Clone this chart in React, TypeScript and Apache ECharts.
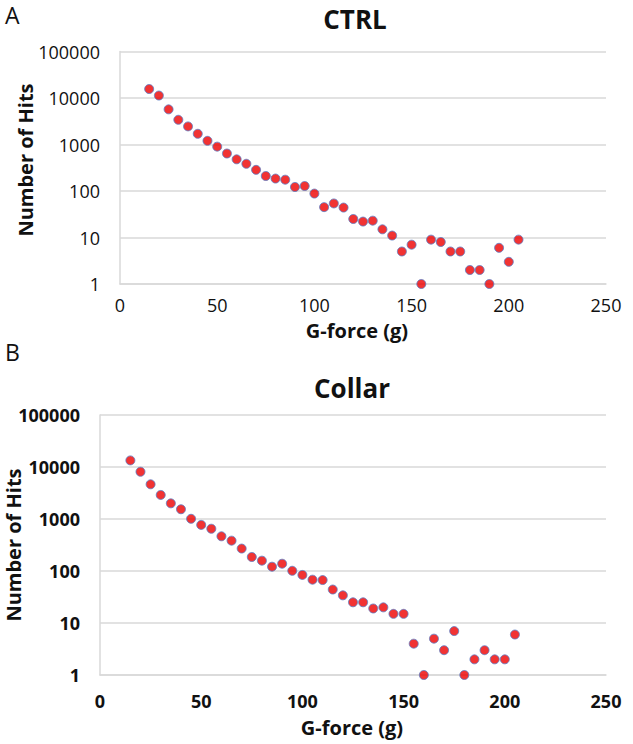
import React, { useEffect, useRef } from "react";
import * as echarts from "echarts";

// G-force bins (g)
const gForce = [15, 20, 25, 30, 35, 40, 45, 50, 55, 60, 65, 70, 75, 80, 85, 90, 95, 100, 105, 110, 115, 120, 125, 130, 135, 140, 145, 150, 155, 160, 165, 170, 175, 180, 185, 190, 195, 200, 205];

// Panel A: CTRL
const ctrlHits = [15600, 11300, 5700, 3400, 2450, 1700, 1200, 900, 640, 480, 385, 285, 210, 185, 175, 122, 128, 88, 45, 54, 44, 25, 22, 23, 15, 11, 5, 7, 1, 9, 8, 5, 5, 2, 2, 1, 6, 3, 9];

// Panel B: Collar
const collarHits = [13400, 8100, 4650, 2900, 2000, 1540, 1010, 770, 650, 465, 383, 270, 186, 158, 121, 138, 101, 84, 68, 67, 44, 34, 25, 25, 19, 20, 15, 15, 4, 1, 5, 3, 7, 1, 2, 3, 2, 2, 6];

const xTickLabels = ["0", "50", "100", "150", "200", "250"];
const yTickLabels = ["1", "10", "100", "1000", "10000", "100000"];

const panelLetters = ["A", "B"];
const panelTitles = ["CTRL", "Collar"];
const xAxisTitle = "G-force (g)";
const yAxisTitle = "Number of Hits";

export default function App() {
  const ref = useRef<HTMLDivElement>(null);

  useEffect(() => {
    if (!ref.current) return;
    const chart = echarts.init(ref.current, null, { renderer: "svg" });
    const font = '"Open Sans", "Liberation Sans", sans-serif';
    const gridColor = "#d9d9d9";
    const textColor = "#111111";

    const mkX = (i: number, bold: boolean, margin: number) => ({
      type: "value",
      gridIndex: i,
      min: 0,
      max: 250,
      interval: 50,
      axisLine: { show: true, lineStyle: { color: gridColor, width: 1.5 } },
      axisTick: { show: false },
      splitLine: { show: false },
      axisLabel: {
        margin,
        fontSize: 18,
        fontFamily: font,
        fontWeight: bold ? "bold" : "normal",
        color: textColor,
        formatter: (v: number) => xTickLabels[Math.round(v / 50)] ?? String(v),
      },
    });

    const mkY = (i: number, bold: boolean) => ({
      type: "log",
      logBase: 10,
      gridIndex: i,
      min: 1,
      max: 100000,
      axisLine: { show: true, lineStyle: { color: gridColor, width: 1.5 } },
      axisTick: { show: false },
      splitLine: { show: true, lineStyle: { color: gridColor, width: 1.5 } },
      axisLabel: {
        margin: 20,
        fontSize: 18,
        fontFamily: font,
        fontWeight: bold ? "bold" : "normal",
        color: textColor,
        formatter: (v: number) => {
          const k = Math.round(Math.log10(v));
          return yTickLabels[k] ?? String(Math.round(v));
        },
      },
    });

    const markerStyle = {
      color: "#ee0000",
      borderColor: "#5a7dc5",
      borderWidth: 1,
    };

    const option: any = {
      animation: false,
      backgroundColor: "#ffffff",
      grid: [
        { left: 120, top: 51.5, width: 486, height: 232.5 },
        { left: 100, top: 415, width: 506, height: 260 },
      ],
      xAxis: [mkX(0, false, 12), mkX(1, true, 17)],
      yAxis: [mkY(0, false), mkY(1, true)],
      series: [
        {
          type: "scatter",
          xAxisIndex: 0,
          yAxisIndex: 0,
          symbol: "circle",
          symbolSize: 9,
          itemStyle: markerStyle,
          data: gForce.map((x, i) => [x, ctrlHits[i]]),
        },
        {
          type: "scatter",
          xAxisIndex: 1,
          yAxisIndex: 1,
          symbol: "circle",
          symbolSize: 9,
          itemStyle: markerStyle,
          data: gForce.map((x, i) => [x, collarHits[i]]),
        },
      ],
      graphic: [
        {
          type: "text",
          x: 5,
          y: 15,
          style: { text: panelLetters[0], font: `normal 23px ${font}`, fill: textColor, textAlign: "left", textVerticalAlign: "middle" },
        },
        {
          type: "text",
          x: 355,
          y: 19,
          style: { text: panelTitles[0], font: `bold 26px ${font}`, fill: textColor, textAlign: "center", textVerticalAlign: "middle" },
        },
        {
          type: "text",
          x: 25,
          y: 160,
          rotation: Math.PI / 2,
          style: { text: yAxisTitle, font: `bold 20px ${font}`, fill: textColor, textAlign: "center", textVerticalAlign: "middle" },
        },
        {
          type: "text",
          x: 357,
          y: 330,
          style: { text: xAxisTitle, font: `bold 20px ${font}`, fill: textColor, textAlign: "center", textVerticalAlign: "middle" },
        },
        {
          type: "text",
          x: 5,
          y: 352,
          style: { text: panelLetters[1], font: `normal 23px ${font}`, fill: textColor, textAlign: "left", textVerticalAlign: "middle" },
        },
        {
          type: "text",
          x: 352,
          y: 388,
          style: { text: panelTitles[1], font: `bold 26px ${font}`, fill: textColor, textAlign: "center", textVerticalAlign: "middle" },
        },
        {
          type: "text",
          x: 13,
          y: 545,
          rotation: Math.PI / 2,
          style: { text: yAxisTitle, font: `bold 20px ${font}`, fill: textColor, textAlign: "center", textVerticalAlign: "middle" },
        },
        {
          type: "text",
          x: 352,
          y: 727,
          style: { text: xAxisTitle, font: `bold 20px ${font}`, fill: textColor, textAlign: "center", textVerticalAlign: "middle" },
        },
      ],
    };

    chart.setOption(option);
    return () => chart.dispose();
  }, []);

  return (
    <div
      ref={ref}
      style={{ position: "absolute", left: 0, top: 0, width: 633, height: 744, background: "#ffffff" }}
    />
  );
}
